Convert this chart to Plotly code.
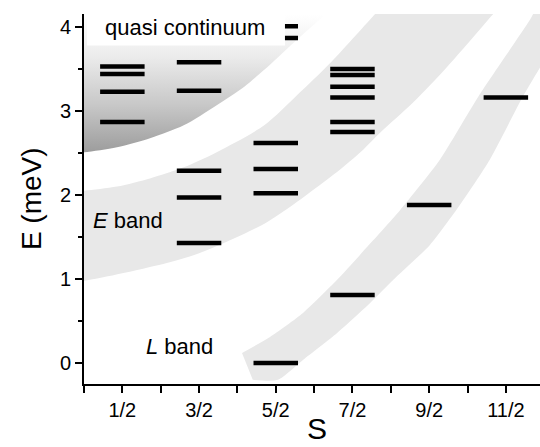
import plotly.graph_objects as go

# Spin values (S) and the energy levels found for each of them (meV)
spin_vals = [0.5, 1.5, 2.5, 3.5, 4.5, 5.5]
spin_labels = ["1/2", "3/2", "5/2", "7/2", "9/2", "11/2"]
levels_s12 = [2.87, 3.23, 3.44, 3.53]
levels_s32 = [1.43, 1.97, 2.29, 3.24, 3.58]
levels_s52 = [0.00, 2.02, 2.31, 2.62, 3.87, 4.01]
levels_s72 = [0.81, 2.75, 2.87, 3.16, 3.29, 3.43, 3.50]
levels_s92 = [1.88]
levels_s112 = [3.16]
level_sets = [levels_s12, levels_s32, levels_s52, levels_s72, levels_s92, levels_s112]

# Outlines of the shaded regions, as (S, E) control points
continuum_edge_s = [-0.3, 0.0, 0.43, 0.87, 1.30, 1.73, 2.09, 2.35, 2.74, 3.13, 3.45]
continuum_edge_e = [2.50, 2.51, 2.57, 2.68, 2.83, 3.07, 3.29, 3.49, 3.82, 4.14, 4.45]

eband_top_s = [-0.3, 0.0, 0.43, 0.87, 1.30, 1.73, 2.35, 2.78, 3.22, 3.78, 4.10]
eband_top_e = [2.03, 2.05, 2.10, 2.20, 2.33, 2.51, 2.83, 3.19, 3.58, 4.14, 4.46]
eband_low_s = [-0.3, 0.0, 1.08, 1.51, 2.39, 3.25, 3.64, 3.86, 4.29, 4.73, 5.32, 5.60]
eband_low_e = [0.97, 0.98, 1.19, 1.31, 1.68, 2.24, 2.54, 2.74, 3.10, 3.52, 4.14, 4.44]

lband_top_s = [2.06, 2.425, 2.855, 3.30, 3.77, 4.12, 4.64, 5.14, 5.81, 6.01]
lband_top_e = [0.12, 0.31, 0.595, 0.99, 1.46, 1.82, 2.42, 3.17, 4.08, 4.38]
lband_low_s = [2.20, 2.53, 2.855, 3.30, 3.73, 4.03, 4.51, 4.90, 5.29, 5.72, 6.08, 6.40]
lband_low_e = [-0.20, -0.20, 0.036, 0.357, 0.714, 0.988, 1.405, 1.88, 2.42, 3.17, 3.73, 4.32]

BAR_HALF = 0.29
FONT = "Liberation Sans, Arial, sans-serif"
BAND_GRAY = "#e8e8e8"

fig = go.Figure()

# Quasi-continuum: everything above its lower edge, shaded with a vertical gradient
cx = continuum_edge_s + [3.45, -0.3]
cy = continuum_edge_e + [4.6, 4.6]
fig.add_trace(go.Scatter(
    x=cx, y=cy, mode="lines", fill="toself",
    line=dict(width=0, shape="spline", smoothing=0.8),
    fillgradient=dict(type="vertical", start=2.5, stop=4.15,
                      colorscale=[[0, "#9c9c9c"], [0.35, "#c8c8c8"],
                                  [0.7, "#ececec"], [1, "#ffffff"]]),
    hoverinfo="skip", showlegend=False))

# E band
ex = eband_top_s + eband_low_s[::-1]
ey = eband_top_e + eband_low_e[::-1]
fig.add_trace(go.Scatter(
    x=ex, y=ey, mode="lines", fill="toself", fillcolor=BAND_GRAY,
    line=dict(width=0, shape="spline", smoothing=0.8),
    hoverinfo="skip", showlegend=False))

# L band
lx = lband_top_s + lband_low_s[::-1]
ly = lband_top_e + lband_low_e[::-1]
fig.add_trace(go.Scatter(
    x=lx, y=ly, mode="lines", fill="toself", fillcolor=BAND_GRAY,
    line=dict(width=0, shape="spline", smoothing=0.6),
    hoverinfo="skip", showlegend=False))

# Energy levels as short horizontal bars centred on each spin value
bx, by = [], []
for s, levels in zip(spin_vals, level_sets):
    for e in levels:
        bx += [s - BAR_HALF, s + BAR_HALF, None]
        by += [e, e, None]
fig.add_trace(go.Scatter(
    x=bx, y=by, mode="lines", line=dict(color="black", width=4.5),
    hoverinfo="skip", showlegend=False))

# White backing behind the "quasi continuum" label
fig.add_shape(type="rect", xref="x", yref="y", x0=0.04, x1=2.62, y0=3.78, y1=4.2,
              fillcolor="white", line=dict(width=0), layer="above")

fig.add_annotation(x=1.32, y=4.0, xref="x", yref="y", text="quasi continuum",
                   showarrow=False, font=dict(family=FONT, size=22, color="black"))
fig.add_annotation(x=0.57, y=1.70, xref="x", yref="y", text="<i>E</i> band",
                   showarrow=False, font=dict(family=FONT, size=22, color="black"))
fig.add_annotation(x=1.24, y=0.20, xref="x", yref="y", text="<i>L</i> band",
                   showarrow=False, font=dict(family=FONT, size=22, color="black"))

# Axis titles
fig.add_annotation(x=-0.116, y=0.5, xref="paper", yref="paper", text="E (meV)",
                   textangle=-90, showarrow=False, xanchor="center", yanchor="middle",
                   font=dict(family=FONT, size=28, color="black"))
fig.add_annotation(x=0.511, y=-0.168, xref="paper", yref="paper", text="S",
                   showarrow=False, xanchor="center", yanchor="bottom", borderpad=0,
                   font=dict(family=FONT, size=30, color="black"))

fig.update_layout(
    width=540, height=447,
    margin=dict(l=84, r=0, t=14, b=63),
    paper_bgcolor="white", plot_bgcolor="white",
    showlegend=False,
    font=dict(family=FONT, color="black"),
    xaxis=dict(
        range=[0, 5.945], showgrid=False, zeroline=False,
        showline=True, linecolor="black", linewidth=2,
        ticks="outside", ticklen=7, tickwidth=1.5, tickcolor="black",
        tickmode="array", tickvals=spin_vals, ticktext=spin_labels,
        tickfont=dict(family=FONT, size=20, color="black"),
        minor=dict(ticks="outside", ticklen=7, tickwidth=1.5, tickcolor="black",
                   tickmode="array", tickvals=[0, 1, 2, 3, 4, 5]),
    ),
    yaxis=dict(
        range=[-0.25, 4.155], showgrid=False, zeroline=False,
        showline=True, linecolor="black", linewidth=2,
        ticks="outside", ticklen=7, tickwidth=1.5, tickcolor="black",
        tickmode="array", tickvals=[0, 1, 2, 3, 4],
        tickfont=dict(family=FONT, size=20, color="black"),
        minor=dict(ticks="outside", ticklen=4, tickwidth=1.5, tickcolor="black",
                   tickmode="array", tickvals=[0.5, 1.5, 2.5, 3.5]),
    ),
)

fig.write_html("out.html")
